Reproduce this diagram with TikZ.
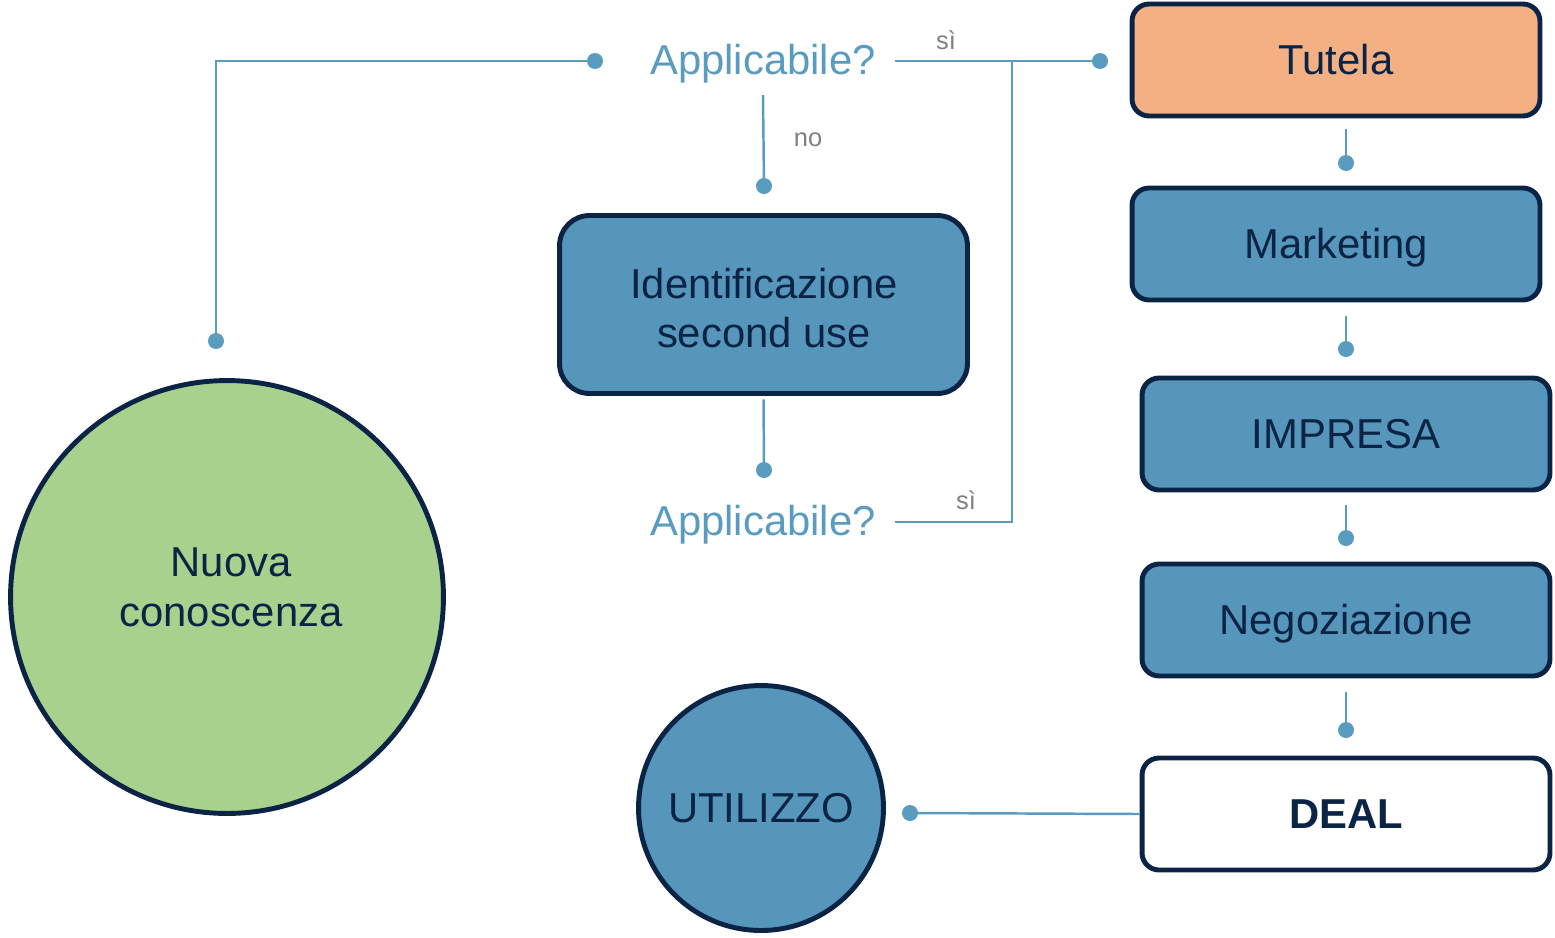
\documentclass[tikz,border=0pt]{standalone}
\usepackage{fontspec}
\setmainfont{Liberation Sans}
\usetikzlibrary{calc}
\definecolor{navy}{HTML}{0B2446}
\definecolor{boxblue}{HTML}{5596BA}
\definecolor{tutorange}{HTML}{F3B083}
\definecolor{leafgreen}{HTML}{A8D18D}
\definecolor{linkblue}{HTML}{5A9BC0}
\definecolor{labgray}{HTML}{808080}
\tikzset{
  bigtext/.style={font=\fontsize{23.8}{28.4}\selectfont, text=navy, align=center},
  stagebox/.style={bigtext, draw=navy, line width=2.8pt, rounded corners=0.34cm,
    fill=boxblue, minimum width=8.16cm, minimum height=2.24cm, inner sep=0pt},
  oneline/.style={text height=17pt, text depth=0pt},
  roundnode/.style={bigtext, circle, draw=navy, line width=2.8pt, inner sep=0pt},
  question/.style={font=\fontsize{23.8}{28.4}\selectfont, text=linkblue, inner xsep=0.38cm, inner ysep=0.23cm,
    text height=20.3pt, text depth=5pt},
  conn/.style={draw=linkblue, line width=1.4pt},
  thinconn/.style={draw=linkblue, line width=0.9pt},
  branchlabel/.style={font=\fontsize{14.5}{17}\selectfont, text=labgray},
  dot/.style={fill=linkblue}
}
\begin{document}
\begin{tikzpicture}[x=0.02cm, y=-0.02cm]
\useasboundingbox (0,0) rectangle (1555,937);

% nodes
\node[roundnode, fill=leafgreen, minimum size=8.66cm] (nuova) at (227,597) {};
\node[bigtext] (nuovatext) at (231,587) {Nuova\\conoscenza};
\node[roundnode, fill=boxblue, minimum size=4.9cm] (util) at (761,808) {UTILIZZO};

\node[question] (app1) at (763,61) {Applicabile?};
\node[question] (app2) at (763,522) {Applicabile?};

\node[stagebox, minimum width=8.16cm, minimum height=3.56cm, rounded corners=0.6cm] (ident) at (763.5,304.5) {};
\node[bigtext] (identtext) at (764,308) {Identificazione\\second use};

\node[stagebox, oneline, fill=tutorange] (tutela) at (1336,60) {Tutela};
\node[stagebox, oneline] (mkt) at (1336,244) {Marketing};
\node[stagebox, oneline] (impresa) at (1346,434) {IMPRESA};
\node[stagebox, oneline] (nego) at (1346,620) {Negoziazione};
\node[stagebox, oneline, fill=white, font=\fontsize{23.8}{28.4}\selectfont\bfseries] (deal) at (1346,814) {DEAL};

% free connector ends (dot centres)
\coordinate (dNuova) at (216,341);
\coordinate (dApp) at (595,61);
\coordinate (dTut) at (1100,61);
\coordinate (dNo) at (764,186);
\coordinate (dId) at (764,470);
\coordinate (dA) at (1346,163);
\coordinate (dB) at (1346,349);
\coordinate (dC) at (1346,538);
\coordinate (dD) at (1346,730);
\coordinate (dUtil) at (910,813);
\coordinate (split) at (1012,61);

% connectors
\draw[conn] (dNuova) |- (dApp);
\draw[conn] (app1.east) -- (dTut);
\draw[thinconn] (split) |- (app2.east);
\draw[conn] (app1.south) -- (dNo);
\draw[conn, shorten <=2pt] (ident.south) -- (dId);
\draw[conn, shorten <=0.22cm] (tutela.south -| dA) -- (dA);
\draw[conn, shorten <=0.28cm] (mkt.south -| dB) -- (dB);
\draw[conn, shorten <=0.26cm] (impresa.south -| dC) -- (dC);
\draw[conn, shorten <=0.28cm] (nego.south -| dD) -- (dD);
\draw[conn] (deal.west) -- (dUtil);

\foreach \p in {dNuova,dApp,dTut,dNo,dId,dA,dB,dC,dD,dUtil}
  \fill[dot] (\p) circle[radius=0.16cm];

% labels
\node[branchlabel] (si1) at (946,40) {sì};
\node[branchlabel] (si2) at (966,500) {sì};
\node[branchlabel] (no1) at (808,140) {no};
\end{tikzpicture}
\end{document}
